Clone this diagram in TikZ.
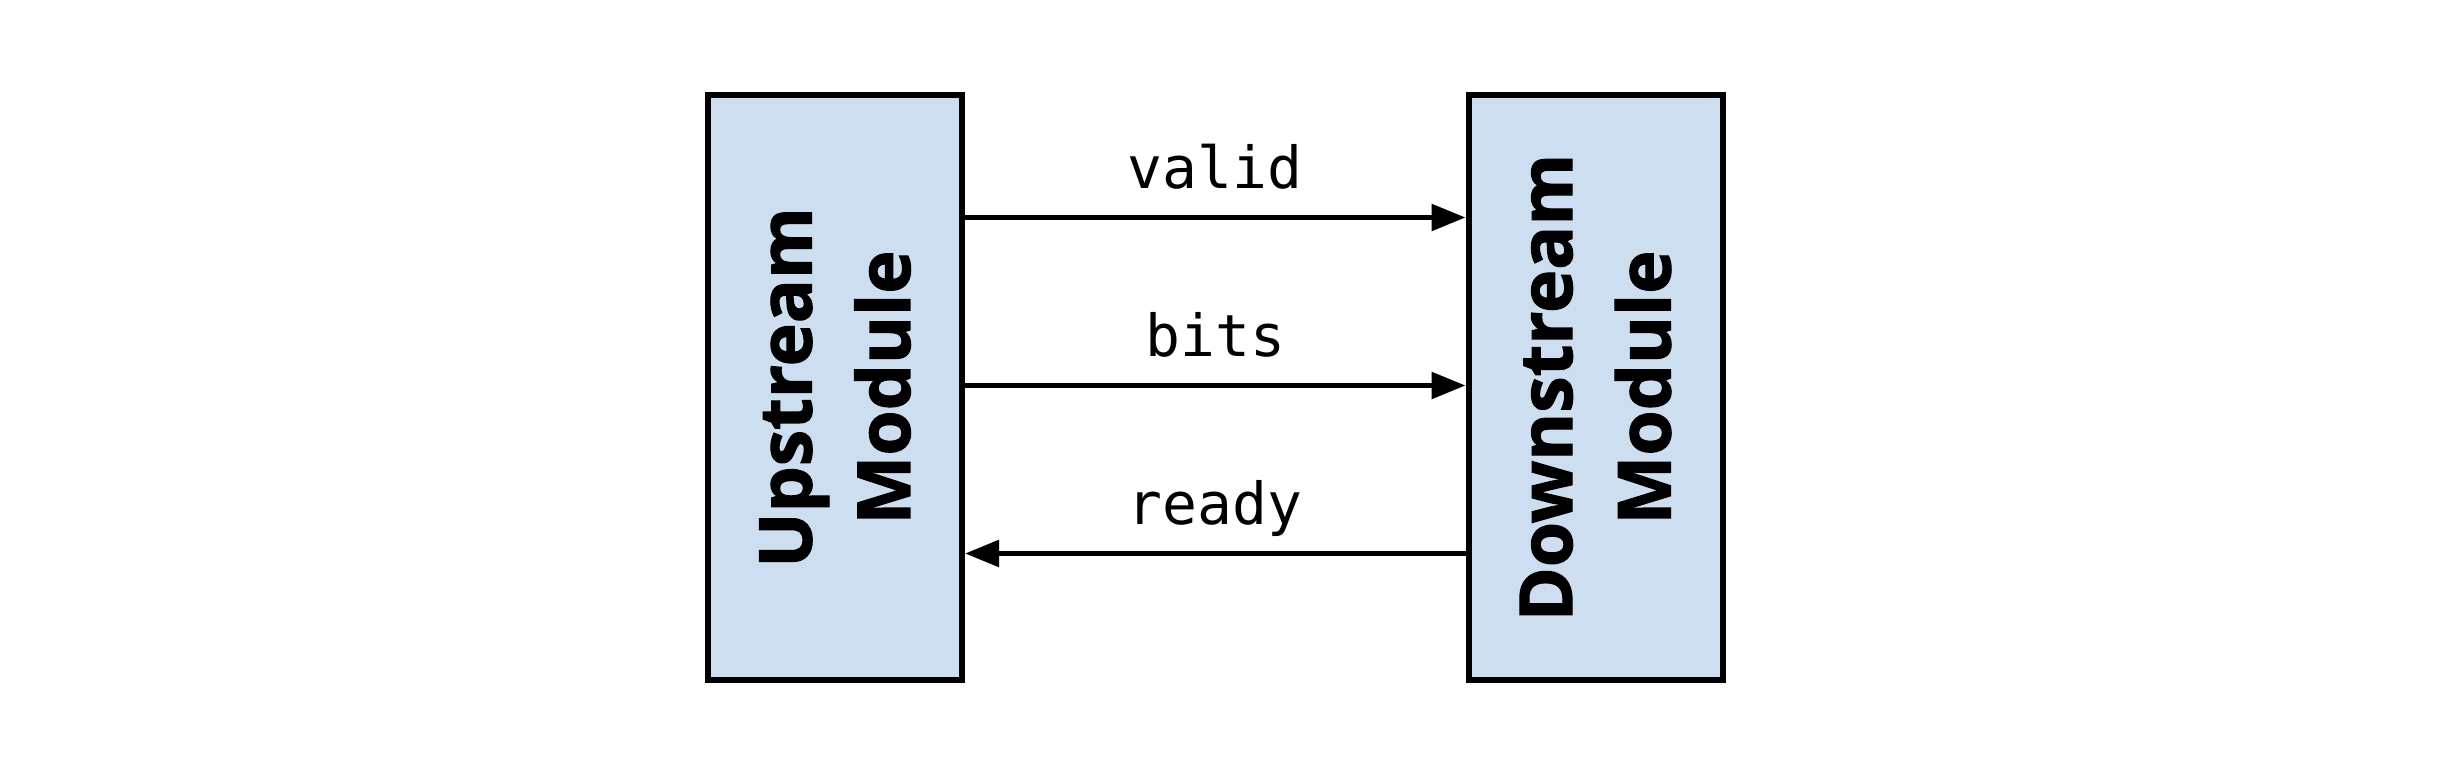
\documentclass[tikz,border=0pt]{standalone}
\usepackage{fontspec}
\setsansfont{Open Sans}[BoldFeatures={FakeBold=1.6}]
\setmonofont{DejaVu Sans Mono}
\usetikzlibrary{positioning, arrows.meta}
\definecolor{boxblue}{RGB}{205,222,240}
\tikzset{
	module/.style={draw, line width=1.7pt, fill=boxblue, rotate=90, align=center,
		minimum width=5.85cm, minimum height=2.54cm, inner sep=0pt,
		font=\sffamily\bfseries\fontsize{20.8}{28}\selectfont},
	sig/.style={line width=1.6pt, -{Triangle[length=3.4mm, width=2.6mm]}},
	lbl/.style={midway, anchor=base, yshift=0.29cm, font=\ttfamily\fontsize{16.5}{18}\selectfont}
}

\begin{document}
\begin{tikzpicture}
		\useasboundingbox (0,0) rectangle (24.4,7.82);
		\node[module] (up) at (8.35,3.945) {Upstream\\Module};
		\node[module] (down) at (15.955,3.945) {Downstream\\Module};
		% rotated boxes: south is the right side, north the left side
		\draw[sig] ([yshift=1.7cm]up.south) -- ([yshift=1.7cm]down.north) node[lbl] {valid};
		\draw[sig] ([yshift=0.02cm]up.south) -- ([yshift=0.02cm]down.north) node[lbl] {bits};
		\draw[sig] ([yshift=-1.66cm]down.north) -- ([yshift=-1.66cm]up.south) node[lbl] {ready};
\end{tikzpicture}
\end{document}
